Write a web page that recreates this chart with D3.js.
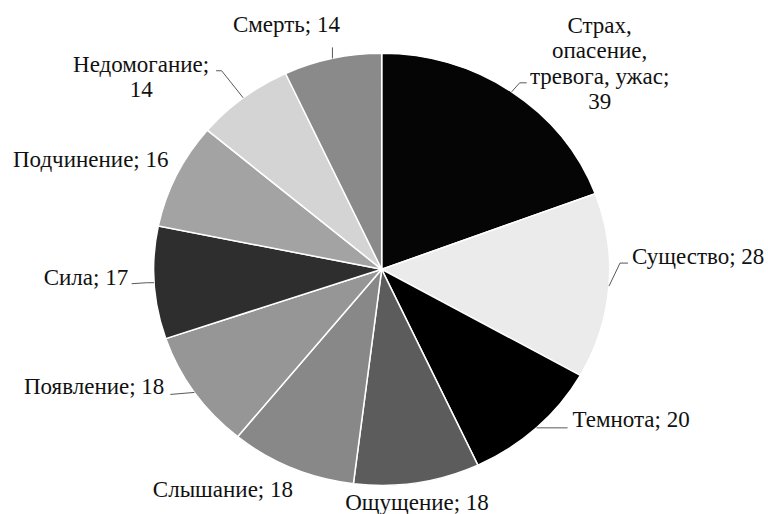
<!DOCTYPE html>
<html>
<head>
<meta charset="utf-8">
<script src="https://cdn.jsdelivr.net/npm/d3@7"></script>
<style>
  body { margin: 0; background: #fff; }
  svg { display: block; }
</style>
</head>
<body>
<div id="chart"></div>
<script>
// данные
const categories = ["Страх, опасение, тревога, ужас", "Существо", "Темнота", "Ощущение", "Слышание",
    "Появление", "Сила", "Подчинение", "Недомогание", "Смерть"];
const values = [39, 28, 20, 18, 18, 18, 17, 16, 14, 14];
const colors = ["#050505", "#ebebeb", "#000000", "#5c5c5c", "#888888",
    "#969696", "#2e2e2e", "#a3a3a3", "#d4d4d4", "#8a8a8a"];

// подписи: строки, смещение текста от края сектора, выравнивание, излом выноски
const labelLines = [
    ["Страх,", "опасение,", "тревога, ужас;", "39"],
    ["Существо; 28"], ["Темнота; 20"], ["Ощущение; 18"], ["Слышание; 18"],
    ["Появление; 18"], ["Сила; 17"], ["Подчинение; 16"], ["Недомогание;", "14"], ["Смерть; 14"]
];
const labelOffset = [[88, -59], [23, -22], [36, -1], [0, 27], [1, 29], [-30, 2], [-26, 2], [-8, -8], [-102, -26], [-46, -26]];
const labelAnchor = ["middle", "start", "start", "middle", "end", "end", "end", "end", "middle", "middle"];
const leaders = [
    [[8, -9], [15, -9]], [[11, -23], [19, -23]], [[31, 0]], null, null,
    [[-24, 2]], [[-7.5, 0], [-22.5, 1]], null, [[-21.5, -27], [-27, -27]], [[0, -11]]
];

const width = 768, height = 514;
const cx = 381.7, cy = 269.3;
const rx = 228, ry = 216; // круг в исходнике слегка растянут по горизонтали
const lineHeight = 25.5;

const svg = d3.select("#chart").append("svg")
    .attr("width", width)
    .attr("height", height);

const pie = d3.pie().sort(null).value(d => d)(values);
const arc = d3.arc().innerRadius(0).outerRadius(rx);

svg.append("g")
    .attr("transform", `translate(${cx},${cy}) scale(1,${ry / rx})`)
    .selectAll("path")
    .data(pie)
    .enter().append("path")
    .attr("d", arc)
    .attr("fill", (d, i) => colors[i])
    .attr("stroke", "#fff")
    .attr("stroke-width", 1.5)
    .attr("vector-effect", "non-scaling-stroke");

// точка на краю по середине сектора
function edgePoint(d) {
    const a = (d.startAngle + d.endAngle) / 2;
    return [cx + rx * Math.sin(a), cy - ry * Math.cos(a)];
}

pie.forEach((d, i) => {
    const [ex, ey] = edgePoint(d);

    if (leaders[i]) {
        const pts = [[ex, ey]].concat(leaders[i].map(p => [ex + p[0], ey + p[1]]));
        svg.append("path")
            .attr("d", d3.line()(pts))
            .attr("fill", "none")
            .attr("stroke", "#595959")
            .attr("stroke-width", 1);
    }

    const tx = ex + labelOffset[i][0];
    const ty = ey + labelOffset[i][1];
    const text = svg.append("text")
        .attr("x", tx)
        .attr("y", ty)
        .attr("text-anchor", labelAnchor[i])
        .attr("font-family", "'Liberation Serif', 'Times New Roman', serif")
        .attr("font-size", 23)
        .attr("fill", "#111");

    labelLines[i].forEach((line, j) => {
        text.append("tspan")
            .attr("x", tx)
            .attr("dy", j === 0 ? 0 : lineHeight)
            .text(line);
    });
});
</script>
</body>
</html>
